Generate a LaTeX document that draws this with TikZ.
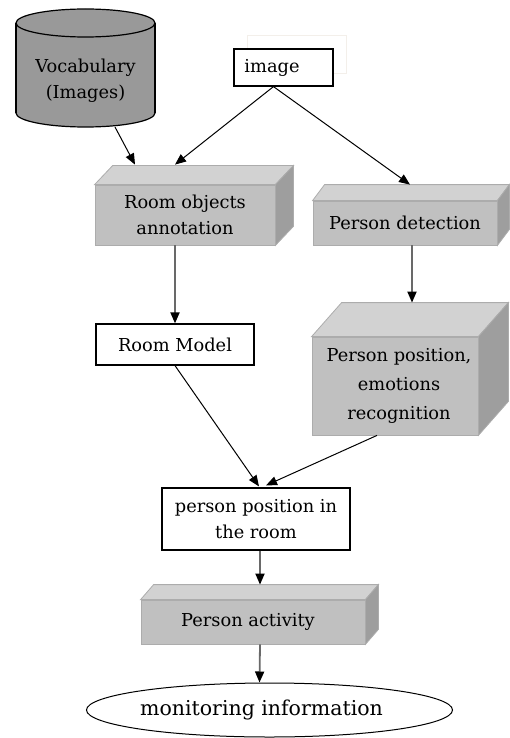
\documentclass[tikz,border=0pt]{standalone}
\usepackage{fontspec}
\setmainfont{DejaVu Serif}
\newfontfamily\labelfont{DejaVu Serif}
\usetikzlibrary{arrows.meta,calc,shapes.geometric}

\definecolor{faceFront}{RGB}{192,192,192}
\definecolor{faceTop}{RGB}{210,210,210}
\definecolor{faceSide}{RGB}{158,158,158}
\definecolor{faceEdge}{RGB}{172,172,172}
\definecolor{drumFill}{RGB}{153,153,153}
\definecolor{stemGray}{RGB}{105,105,105}
\definecolor{ghostLine}{RGB}{243,239,234}

\tikzset{
  txt/.style={font=\labelfont\fontsize{17.8}{26}\selectfont, align=center},
  plainbox/.style={txt, draw=black, line width=1.2pt, fill=white, inner sep=0pt},
  frontbox/.style={txt, fill=faceFront, draw=faceEdge, line width=0.8pt, inner sep=0pt},
  topface/.style={fill=faceTop, draw=faceEdge, line width=0.8pt},
  sideface/.style={fill=faceSide, draw=faceEdge, line width=0.8pt},
  tip/.style={-{Triangle[length=11pt,width=9pt,color=black]}},
  diag/.style={tip, draw=black, line width=1pt},
  stem/.style={tip, draw=stemGray, line width=1.8pt},
}

% top and right faces of a cuboid whose front face is node #1, depth (#2 right, #3 up)
\newcommand{\boxfaces}[3]{%
  \path[topface] (#1.north west) -- ++(#2,-#3) -- ($(#1.north east)+(#2,-#3)$) -- (#1.north east) -- cycle;
  \path[sideface] (#1.north east) -- ++(#2,-#3) -- ($(#1.south east)+(#2,-#3)$) -- (#1.south east) -- cycle;
}

\begin{document}
\begin{tikzpicture}[x=1pt,y=-1pt]
  \useasboundingbox (0,0) rectangle (509,738);

  % vocabulary drum
  \fill[drumFill] (16,23) rectangle (155,113);
  \fill[drumFill] (85.5,113) ellipse [x radius=69.5, y radius=14];
  \draw[line width=1.2pt] (16,23) -- (16,113) (155,23) -- (155,113);
  \begin{scope}
    \clip (0,113) rectangle (170,140);
    \draw[line width=1.2pt] (85.5,113) ellipse [x radius=69.5, y radius=14];
  \end{scope}
  \draw[fill=drumFill, line width=1.2pt] (85.5,23) ellipse [x radius=69.5, y radius=14];
  \node[txt] (vocab) at (85.5,81) {Vocabulary\\(Images)};
  \coordinate (drumfoot) at (115,127);

  % input image
  \draw[ghostLine, line width=0.8pt] (247,35) rectangle (346,73);
  \node[plainbox, minimum width=99pt, minimum height=37pt] (img) at (283.5,67.5) {image\hspace*{23pt}};

  % processing steps
  \node[frontbox, minimum width=180pt, minimum height=60pt] (roa) at (185,215) {Room objects\\annotation};
  \boxfaces{roa}{18}{19}

  \node[frontbox, minimum width=184pt, minimum height=44pt] (pd) at (405,223) {Person detection};
  \boxfaces{pd}{12}{16}

  \node[frontbox, minimum width=166pt, minimum height=98pt, font=\labelfont\fontsize{17.8}{29}\selectfont] (ppe) at (395,386) {\hspace*{8pt}Person position,\\\hspace*{8pt}emotions\\\hspace*{8pt}recognition};
  \boxfaces{ppe}{30}{34}

  \node[plainbox, minimum width=158pt, minimum height=41pt] (rm) at (175,344.5) {Room Model};

  \node[plainbox, minimum width=188pt, minimum height=62pt] (ppr) at (256,519) {person position in\\the room};

  \node[frontbox, minimum width=224pt, minimum height=44pt] (pa) at (253,622) {Person activity\hspace*{10pt}};
  \boxfaces{pa}{13}{15}

  \node[ellipse, draw=black, line width=1pt, fill=white, inner sep=0pt,
        minimum width=297pt, minimum height=54pt, font=\labelfont\fontsize{20.5}{26}\selectfont]
        (mi) at (269.5,710) {monitoring information\hspace*{16pt}};

  % connectors
  \draw[diag] (drumfoot) -- ($(roa.north)+(-50,-20)$);
  \draw[diag] ($(img.south west)!0.4!(img.south east)$) -- ($(roa.north)+(-10,-20)$);
  \draw[diag] ($(img.south west)!0.4!(img.south east)$) -- ($(pd.north)+(5,-16)$);
  \draw[stem] ($(roa.south)+(-10,0)$) -- (rm.north);
  \draw[stem] ($(pd.south)+(7,0)$) -- ($(ppe.north)+(17,-34)$);
  \draw[diag] (rm.south) -- ($(ppr.north)+(3,-1)$);
  \draw[diag] ($(ppe.south)+(-18,0)$) -- ($(ppr.north)+(10,-2)$);
  \draw[stem] ($(ppr.south)+(4,0)$) -- ($(pa.north)+(7,-15)$);
  \draw[stem] ($(pa.south)+(7,0)$) -- ($(mi.north)+(-10,0)$);
\end{tikzpicture}
\end{document}
